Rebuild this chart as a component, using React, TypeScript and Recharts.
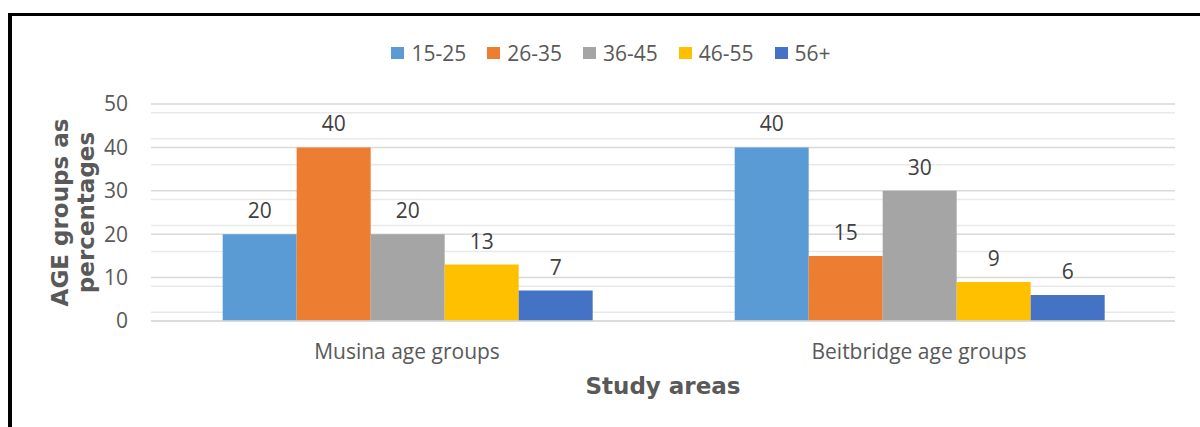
import React from 'react';
import {
  BarChart, Bar, XAxis, YAxis, CartesianGrid, LabelList, Label
} from 'recharts';

const studyAreas = ['Musina age groups', 'Beitbridge age groups'];
const ageGroups = ['15-25', '26-35', '36-45', '46-55', '56+'];
const musinaValues = [20, 40, 20, 13, 7];
const beitbridgeValues = [40, 15, 30, 9, 6];
const groupColors = ['#5B9BD5', '#ED7D31', '#A5A5A5', '#FFC000', '#4472C4'];
const yTicks = [0, 10, 20, 30, 40, 50];
const minorTicks = [2, 4, 6, 8, 12, 14, 16, 18, 22, 24, 26, 28, 32, 34, 36, 38, 42, 44, 46, 48];

// one row per study area, one key per age group
const rows = studyAreas.map((area, i) => {
  const vals = i === 0 ? musinaValues : beitbridgeValues;
  const row: any = { area };
  ageGroups.forEach((g, j) => { row[g] = vals[j]; });
  return row;
});

const FONT = '"Open Sans", sans-serif';
const TITLE_FONT = '"DejaVu Sans", sans-serif';

const YTitle = (props: any) => {
  const { viewBox } = props;
  const cy = viewBox.y + viewBox.height / 2;
  const lines = ['AGE groups as', 'percentages'];
  const xs = [60, 86];
  return (
    <g>
      {lines.map((t, i) => (
        <text
          key={i}
          x={xs[i]}
          y={cy}
          transform={`rotate(-90, ${xs[i]}, ${cy})`}
          textAnchor="middle"
          dominantBaseline="central"
          fill="#595959"
          fontFamily={TITLE_FONT}
          fontWeight="bold"
          fontSize={23}
        >
          {t}
        </text>
      ))}
    </g>
  );
};

const XTitle = (props: any) => {
  const { viewBox } = props;
  return (
    <text
      x={viewBox.x + viewBox.width / 2}
      y={386}
      textAnchor="middle"
      dominantBaseline="central"
      fill="#595959"
      fontFamily={TITLE_FONT}
      fontWeight="bold"
      fontSize={23}
    >
      Study areas
    </text>
  );
};

export default function App() {
  return (
    <div style={{ position: 'absolute', left: 0, top: 0, width: 1200, height: 427, overflow: 'hidden', background: '#fff' }}>
      {/* frame edges */}
      <div style={{ position: 'absolute', left: 8, top: 13, width: 1300, height: 500, borderLeft: '4px solid #000', borderTop: '3px solid #000' }} />

      {/* legend */}
      <div style={{ position: 'absolute', left: 0, top: 38, width: 1222, height: 30, display: 'flex', justifyContent: 'center', alignItems: 'center', gap: 21, fontFamily: FONT, fontSize: 21, color: '#595959' }}>
        {ageGroups.map((g, i) => (
          <div key={g} style={{ display: 'flex', alignItems: 'center' }}>
            <div style={{ width: 13, height: 12, background: groupColors[i], marginRight: 7 }} />
            <span>{g}</span>
          </div>
        ))}
      </div>

      <div style={{ position: 'absolute', left: 0, top: 0 }}>
        <BarChart
          width={1200}
          height={427}
          data={rows}
          margin={{ top: 104, right: 25, left: 0, bottom: 0 }}
          barCategoryGap="14%"
          barGap={0}
        >
          <CartesianGrid vertical={false} horizontalValues={minorTicks} stroke="#e9e9e9" strokeWidth={1.5} />
          <CartesianGrid vertical={false} horizontalValues={yTicks} stroke="#d9d9d9" strokeWidth={1.5} />
          <XAxis
            dataKey="area"
            height={106}
            tickLine={false}
            axisLine={{ stroke: '#d9d9d9', strokeWidth: 1.5 }}
            tickMargin={17}
            tick={{ fill: '#595959', fontSize: 21, fontFamily: FONT }}
          >
            <Label content={XTitle} />
          </XAxis>
          <YAxis
            width={151}
            domain={[0, 50]}
            ticks={yTicks}
            axisLine={false}
            tickLine={false}
            tickMargin={17}
            tick={{ fill: '#595959', fontSize: 21, fontFamily: FONT }}
          >
            <Label content={YTitle} />
          </YAxis>
          {ageGroups.map((g, i) => (
            <Bar key={g} dataKey={g} fill={groupColors[i]} isAnimationActive={false}>
              <LabelList dataKey={g} position="top" offset={16} fill="#404040" fontSize={21} fontFamily={FONT} />
            </Bar>
          ))}
        </BarChart>
      </div>
    </div>
  );
}
